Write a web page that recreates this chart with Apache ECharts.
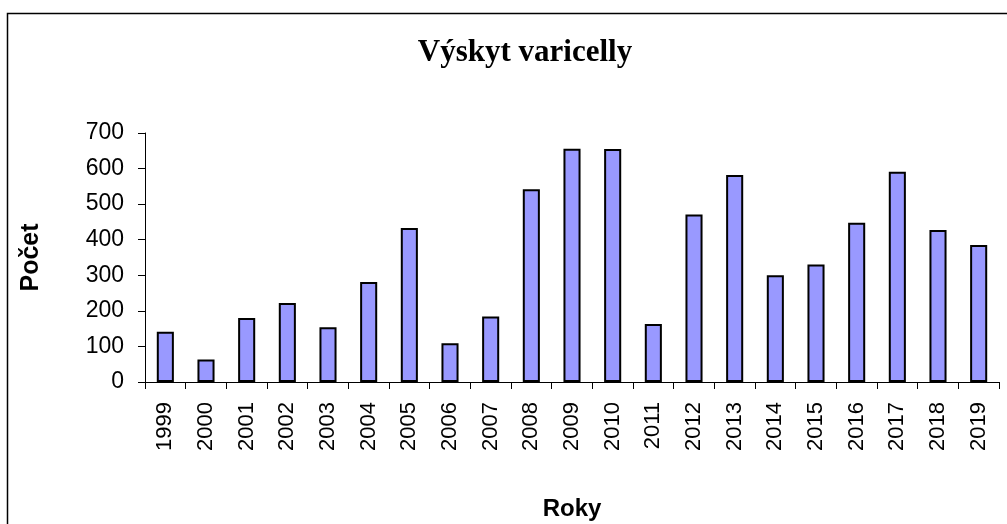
<!DOCTYPE html>
<html>
<head>
<meta charset="utf-8">
<script src="https://cdn.jsdelivr.net/npm/echarts@6/dist/echarts.min.js"></script>
<style>html,body{margin:0;padding:0;background:#fff}#c{width:1007px;height:524px}</style>
</head>
<body>
<div id="c"></div>
<script>
var years = ['1999','2000','2001','2002','2003','2004','2005','2006','2007','2008','2009','2010','2011','2012','2013','2014','2015','2016','2017','2018','2019'];
var counts = [141, 63, 180, 222, 154, 281, 433, 109, 184, 542, 656, 655, 163, 471, 582, 300, 330, 448, 591, 427, 385];
var yTicks = {min: 0, max: 700, interval: 100};

var chart = echarts.init(document.getElementById('c'), null, {renderer: 'canvas'});
chart.setOption({
  animation: false,
  backgroundColor: '#fff',
  title: {
    text: 'Výskyt varicelly',
    left: 520, textAlign: 'center', top: 32,
    textStyle: {fontFamily: 'Liberation Serif', fontWeight: 'bold', fontSize: 31, color: '#000'}
  },
  graphic: [{
    type: 'rect', left: 5, top: 11, silent: true,
    shape: {width: 1010, height: 520},
    style: {fill: 'none', stroke: '#000', lineWidth: 1.5}
  }],
  grid: {left: 145, right: 8, top: 133, bottom: 142, containLabel: false},
  xAxis: {
    type: 'category', data: years,
    name: 'Roky', nameLocation: 'middle', nameGap: 115,
    nameTextStyle: {fontFamily: 'Liberation Sans', fontWeight: 'bold', fontSize: 24, color: '#000'},
    axisLine: {lineStyle: {color: '#000', width: 1}},
    axisTick: {show: true, length: 7, lineStyle: {color: '#000'}},
    axisLabel: {rotate: 90, margin: 20, fontFamily: 'Liberation Sans', fontSize: 22, color: '#000', interval: 0}
  },
  yAxis: {
    type: 'value', min: yTicks.min, max: yTicks.max, interval: yTicks.interval,
    name: 'Počet', nameLocation: 'middle', nameGap: 101, nameRotate: 90,
    nameTextStyle: {fontFamily: 'Liberation Sans', fontWeight: 'bold', fontSize: 25, color: '#000'},
    axisLine: {show: true, lineStyle: {color: '#000', width: 1}},
    axisTick: {show: true, length: 7, lineStyle: {color: '#000'}},
    splitLine: {show: false},
    axisLabel: {margin: 21, fontFamily: 'Liberation Sans', fontSize: 23, color: '#000'}
  },
  series: [{
    type: 'bar', data: counts, barWidth: '42%',
    itemStyle: {color: '#9999FF', borderColor: '#000', borderWidth: 2}
  }]
});
</script>
</body>
</html>
